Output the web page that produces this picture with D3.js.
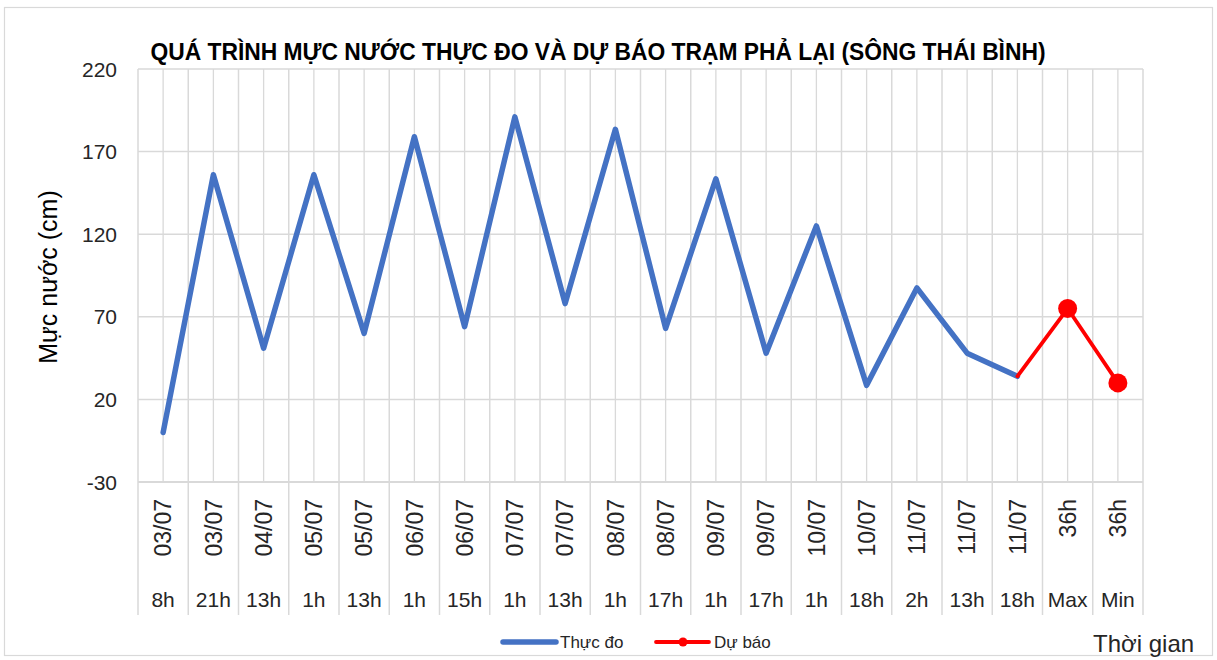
<!DOCTYPE html>
<html>
<head>
<meta charset="utf-8">
<script src="https://cdn.jsdelivr.net/npm/d3@7"></script>
<style>
  html, body { margin: 0; padding: 0; background: #fff; }
  svg { display: block; font-family: "Liberation Sans", Arial, sans-serif; }
</style>
</head>
<body>
<svg id="chart" width="1217" height="660"></svg>
<script>
// ---- data ----
const dateLabels = ["03/07","03/07","04/07","05/07","05/07","06/07","06/07","07/07","07/07","08/07","08/07","09/07","09/07","10/07","10/07","11/07","11/07","11/07","36h","36h"];
const hourLabels = ["8h","21h","13h","1h","13h","1h","15h","1h","13h","1h","17h","1h","17h","1h","18h","2h","13h","18h","Max","Min"];
const observed = [0, 156, 51, 156, 60, 179, 64, 191, 78, 183.5, 63, 153.5, 48, 125, 28.5, 87.5, 48, 34, null, null];
const forecast = [null, null, null, null, null, null, null, null, null, null, null, null, null, null, null, null, null, 34, 75, 30];
const yTicks = [-30, 20, 70, 120, 170, 220];

const titleText = "QUÁ TRÌNH MỰC NƯỚC THỰC ĐO VÀ DỰ BÁO TRẠM PHẢ LẠI (SÔNG THÁI BÌNH)";
const yTitle = "Mực nước (cm)";
const xTitle = "Thời gian";
const seriesNames = ["Thực đo", "Dự báo"];

// ---- layout ----
const svg = d3.select("#chart");
const L = 138, R = 1143, T = 69, B = 482, labelBottom = 615;
const grid = "#d9d9d9";
const blue = "#4472C4", red = "#FF0000";

const idx = d3.range(dateLabels.length);
const x = d3.scaleBand().domain(idx).range([L, R]).padding(0);
const y = d3.scaleLinear().domain([-30, 220]).range([B, T]);
const cx = i => x(i) + x.bandwidth() / 2;

// outer border
svg.append("rect").attr("x", 4.5).attr("y", 7.5).attr("width", 1208).attr("height", 648)
  .attr("fill", "#fff").attr("stroke", grid).attr("stroke-width", 1.2);

// horizontal gridlines
svg.append("g").selectAll("line").data(yTicks).join("line")
  .attr("x1", L).attr("x2", R).attr("y1", d => y(d)).attr("y2", d => y(d))
  .attr("stroke", grid).attr("stroke-width", d => d === -30 ? 2 : 1.5);

// vertical gridlines: band centers (plot only)
svg.append("g").selectAll("line").data(idx).join("line")
  .attr("x1", d => cx(d)).attr("x2", d => cx(d)).attr("y1", T).attr("y2", B)
  .attr("stroke", grid).attr("stroke-width", 1.3);

// band boundaries (plot + label area)
const bounds = idx.map(i => x(i)).concat([R]);
svg.append("g").selectAll("line").data(bounds).join("line")
  .attr("x1", d => d).attr("x2", d => d).attr("y1", T).attr("y2", labelBottom)
  .attr("stroke", grid).attr("stroke-width", 1.5);

// y tick labels
svg.append("g").selectAll("text").data(yTicks).join("text")
  .attr("x", 117).attr("y", d => y(d)).attr("dy", "0.36em")
  .attr("text-anchor", "end").attr("font-size", 21).attr("fill", "#262626")
  .text(d => d);

// x date labels (rotated)
svg.append("g").selectAll("text").data(idx).join("text")
  .attr("transform", d => `translate(${cx(d)},499) rotate(-90)`)
  .attr("text-anchor", "end").attr("dy", "0.36em")
  .attr("font-size", 23).attr("fill", "#262626")
  .text(d => dateLabels[d]);

// x hour labels
svg.append("g").selectAll("text").data(idx).join("text")
  .attr("x", d => cx(d)).attr("y", 607)
  .attr("text-anchor", "middle").attr("font-size", 21).attr("fill", "#262626")
  .text(d => hourLabels[d]);

// lines
const line = d3.line().defined(d => d.v !== null).x(d => cx(d.i)).y(d => y(d.v));
const obsData = observed.map((v, i) => ({ i, v }));
const fcData = forecast.map((v, i) => ({ i, v }));

svg.append("path").datum(obsData).attr("d", line)
  .attr("fill", "none").attr("stroke", blue).attr("stroke-width", 5.5)
  .attr("stroke-linejoin", "round").attr("stroke-linecap", "round");

svg.append("path").datum(fcData).attr("d", line)
  .attr("fill", "none").attr("stroke", red).attr("stroke-width", 3.8)
  .attr("stroke-linejoin", "round").attr("stroke-linecap", "round");

svg.append("g").selectAll("circle").data(fcData.filter(d => d.v !== null && d.i > 17)).join("circle")
  .attr("cx", d => cx(d.i)).attr("cy", d => y(d.v)).attr("r", 9.5).attr("fill", red);

// title
svg.append("text").attr("x", 598).attr("y", 60).attr("text-anchor", "middle")
  .attr("font-size", 24).attr("font-weight", "bold").attr("fill", "#000")
  .attr("textLength", 895).attr("lengthAdjust", "spacingAndGlyphs")
  .text(titleText);

// y title
svg.append("text").attr("transform", "translate(48,277) rotate(-90)")
  .attr("text-anchor", "middle").attr("dy", "0.36em")
  .attr("font-size", 25).attr("fill", "#000").text(yTitle);

// x title
svg.append("text").attr("x", 1093).attr("y", 652)
  .attr("font-size", 24).attr("fill", "#262626").text(xTitle);

// legend
const lg = svg.append("g");
lg.append("line").attr("x1", 503).attr("x2", 556).attr("y1", 642).attr("y2", 642)
  .attr("stroke", blue).attr("stroke-width", 5.5).attr("stroke-linecap", "round");
lg.append("text").attr("x", 560).attr("y", 642).attr("dy", "0.36em")
  .attr("font-size", 17).attr("fill", "#262626").text(seriesNames[0]);
lg.append("line").attr("x1", 656).attr("x2", 709).attr("y1", 642).attr("y2", 642)
  .attr("stroke", red).attr("stroke-width", 3.8).attr("stroke-linecap", "round");
lg.append("circle").attr("cx", 683).attr("cy", 642).attr("r", 4.5).attr("fill", red);
lg.append("text").attr("x", 714).attr("y", 642).attr("dy", "0.36em")
  .attr("font-size", 17).attr("fill", "#262626").text(seriesNames[1]);
</script>
</body>
</html>
